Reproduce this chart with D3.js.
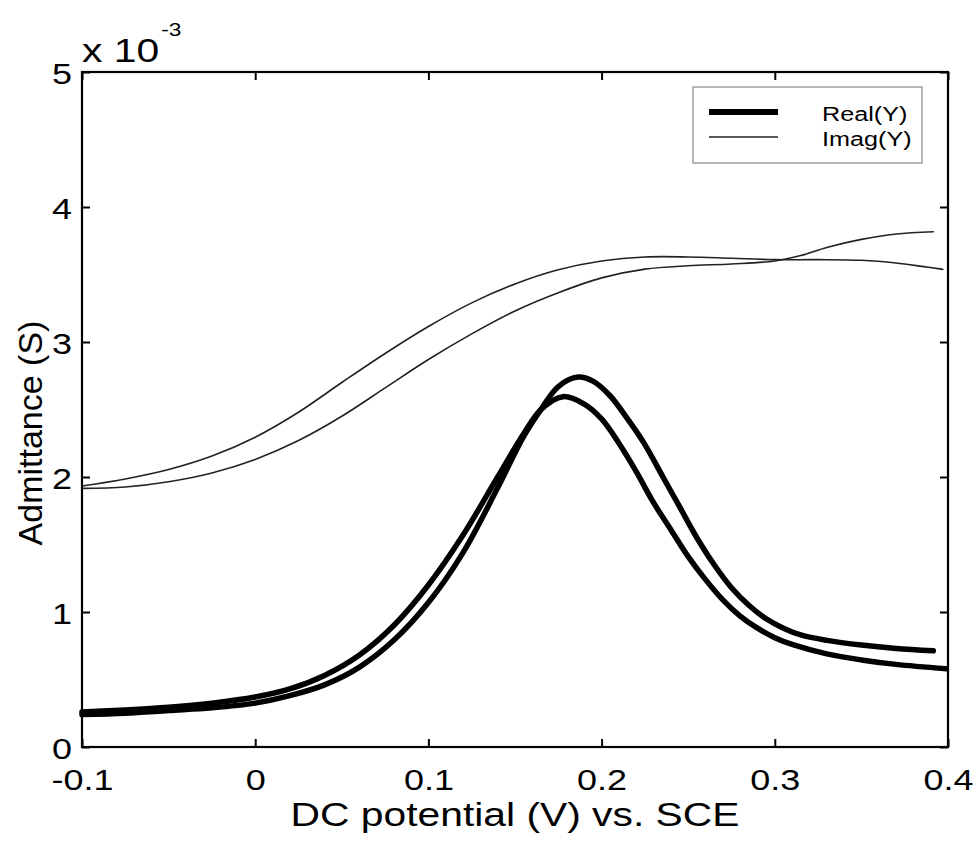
<!DOCTYPE html>
<html>
<head>
<meta charset="utf-8">
<script src="https://cdn.jsdelivr.net/npm/d3@7"></script>
<style>
  body { margin: 0; background: #fff; }
  text { font-family: "Liberation Sans", Arial, sans-serif; fill: #000; }
</style>
</head>
<body>
<svg id="chart" width="979" height="842"></svg>
<script>
const svg = d3.select("svg#chart");

// admittance values are in units of 1e-3 S
const xTicks = [-0.1, 0, 0.1, 0.2, 0.3, 0.4];
const yTicks = [0, 1, 2, 3, 4, 5];

const real1X = [-0.1, -0.075, -0.05, -0.025, 0.0, 0.02, 0.04, 0.06, 0.08, 0.1, 0.12, 0.14, 0.155, 0.165, 0.175, 0.1864, 0.195, 0.205, 0.215, 0.225, 0.235, 0.245, 0.255, 0.265, 0.275, 0.285, 0.295, 0.305, 0.315, 0.33, 0.35, 0.37, 0.3915];
const real1Y = [0.24, 0.25, 0.27, 0.29, 0.325, 0.38, 0.46, 0.59, 0.79, 1.07, 1.44, 1.92, 2.30, 2.50, 2.67, 2.74, 2.71, 2.60, 2.43, 2.24, 2.01, 1.78, 1.55, 1.35, 1.18, 1.05, 0.95, 0.88, 0.83, 0.79, 0.755, 0.73, 0.713];

const real2X = [-0.1, -0.075, -0.05, -0.025, 0.0, 0.02, 0.04, 0.06, 0.08, 0.1, 0.12, 0.14, 0.155, 0.165, 0.1777, 0.19, 0.2, 0.21, 0.22, 0.23, 0.24, 0.25, 0.26, 0.27, 0.28, 0.29, 0.30, 0.31, 0.33, 0.35, 0.37, 0.399];
const real2Y = [0.26, 0.275, 0.295, 0.325, 0.37, 0.43, 0.53, 0.68, 0.90, 1.20, 1.57, 2.0, 2.32, 2.50, 2.595, 2.54, 2.43, 2.25, 2.04, 1.81, 1.61, 1.41, 1.24, 1.09, 0.97, 0.88, 0.81, 0.76, 0.69, 0.645, 0.612, 0.58];

const imag1X = [-0.1, -0.075, -0.05, -0.025, 0.0, 0.025, 0.05, 0.075, 0.1, 0.125, 0.15, 0.175, 0.2, 0.225, 0.25, 0.275, 0.3, 0.325, 0.35, 0.37, 0.385, 0.397];
const imag1Y = [1.933, 1.985, 2.055, 2.155, 2.295, 2.48, 2.70, 2.915, 3.115, 3.29, 3.43, 3.535, 3.60, 3.63, 3.63, 3.62, 3.61, 3.61, 3.605, 3.585, 3.56, 3.538];

const imag2X = [-0.1, -0.075, -0.05, -0.025, 0.0, 0.025, 0.05, 0.075, 0.1, 0.125, 0.15, 0.175, 0.2, 0.225, 0.25, 0.275, 0.3, 0.315, 0.33, 0.35, 0.37, 0.3915];
const imag2Y = [1.916, 1.926, 1.965, 2.03, 2.13, 2.27, 2.45, 2.66, 2.87, 3.06, 3.23, 3.365, 3.475, 3.54, 3.565, 3.578, 3.60, 3.64, 3.70, 3.76, 3.80, 3.817];

const legendNames = ["Real(Y)", "Imag(Y)"];

const plotL = 82, plotR = 948, plotT = 72, plotB = 747;
const x = d3.scaleLinear().domain([-0.1, 0.4]).range([plotL, plotR]);
const y = d3.scaleLinear().domain([0, 5]).range([plotB, plotT]);

function pts(xs, ys) { return xs.map((v, i) => [v, ys[i]]); }

const line = d3.line()
  .x(d => x(d[0]))
  .y(d => y(d[1]))
  .curve(d3.curveCatmullRom.alpha(0.5));

// curves
const curves = [
  { data: pts(imag1X, imag1Y), w: 1.6, c: "#222" },
  { data: pts(imag2X, imag2Y), w: 1.6, c: "#222" },
  { data: pts(real1X, real1Y), w: 5.5, c: "#000" },
  { data: pts(real2X, real2Y), w: 5.5, c: "#000" }
];
svg.append("g").selectAll("path")
  .data(curves)
  .enter().append("path")
    .attr("d", d => line(d.data))
    .attr("fill", "none")
    .attr("stroke", d => d.c)
    .attr("stroke-width", d => d.w)
    .attr("stroke-linecap", "round")
    .attr("stroke-linejoin", "round");

// axes, MATLAB style ticks pointing inwards
function styleAxis(g) {
  g.select(".domain").remove();
  g.selectAll(".tick line").attr("stroke", "#000").attr("stroke-width", 2);
}

const xAxis = svg.append("g")
  .attr("transform", `translate(0,${plotB})`)
  .call(d3.axisBottom(x).tickValues(xTicks).tickSize(-8).tickFormat(d => String(d)));
styleAxis(xAxis);
xAxis.selectAll("text")
  .attr("y", null).attr("dy", null)
  .attr("transform", "translate(0,43) scale(1.2,1)")
  .style("font-size", "30px")
  .attr("fill", "#000");

const yAxis = svg.append("g")
  .attr("transform", `translate(${plotL},0)`)
  .call(d3.axisLeft(y).tickValues(yTicks).tickSize(-8).tickFormat(d => String(d)));
styleAxis(yAxis);
yAxis.selectAll("text")
  .attr("x", null).attr("dy", null)
  .attr("transform", "translate(-10,11) scale(1.2,1)")
  .style("font-size", "30px")
  .attr("fill", "#000");

const topAxis = svg.append("g")
  .attr("transform", `translate(0,${plotT})`)
  .call(d3.axisTop(x).tickValues(xTicks).tickSize(-8).tickFormat(""));
styleAxis(topAxis);

const rightAxis = svg.append("g")
  .attr("transform", `translate(${plotR},0)`)
  .call(d3.axisRight(y).tickValues(yTicks).tickSize(-8).tickFormat(""));
styleAxis(rightAxis);

// frame
svg.append("rect")
  .attr("x", plotL).attr("y", plotT)
  .attr("width", plotR - plotL).attr("height", plotB - plotT)
  .attr("fill", "none")
  .attr("stroke", "#000")
  .attr("stroke-width", 2.2);

// exponent label
const expo = svg.append("g").attr("transform", `translate(${plotL},62) scale(1.2,1)`);
expo.append("text").style("font-size", "34px").text("x 10");
expo.append("text").attr("x", 66).attr("y", -26).style("font-size", "19px").text("-3");

// axis titles
svg.append("text")
  .attr("transform", `translate(${(plotL + plotR) / 2},826) scale(1.2,1)`)
  .attr("text-anchor", "middle")
  .style("font-size", "34px")
  .text("DC potential (V) vs. SCE");

svg.append("text")
  .attr("transform", "translate(42,433) rotate(-90)")
  .attr("text-anchor", "middle")
  .style("font-size", "34px")
  .text("Admittance (S)");

// legend
const legend = svg.append("g");
legend.append("rect")
  .attr("x", 693).attr("y", 87)
  .attr("width", 229).attr("height", 76)
  .attr("fill", "#fff")
  .attr("stroke", "#888")
  .attr("stroke-width", 1.2);

const legendRows = legend.selectAll("g.row")
  .data(legendNames)
  .enter().append("g")
    .attr("class", "row")
    .attr("transform", (d, i) => `translate(0,${112 + i * 25})`);
legendRows.append("line")
  .attr("x1", 709).attr("x2", 778)
  .attr("y1", 0).attr("y2", 0)
  .attr("stroke", (d, i) => i === 0 ? "#000" : "#222")
  .attr("stroke-width", (d, i) => i === 0 ? 6 : 1.6);
legendRows.append("text")
  .attr("transform", "translate(822,9) scale(1.2,1)")
  .style("font-size", "21px")
  .attr("fill", "#333")
  .text(d => d);
</script>
</body>
</html>
